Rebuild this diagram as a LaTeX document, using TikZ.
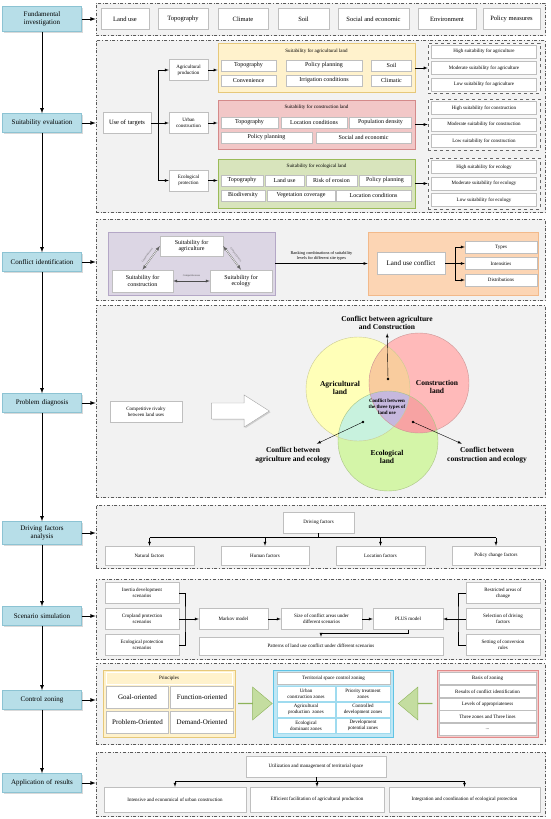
\documentclass[tikz,border=0pt]{standalone}
\usepackage{fontspec}
\setmainfont{Liberation Serif}
\usetikzlibrary{shapes.arrows,shadows}

\definecolor{stageblue}{HTML}{B7DEE8}
\definecolor{stageedge}{HTML}{8CC3D3}
\definecolor{panelgray}{HTML}{F2F2F2}
\definecolor{cellline}{HTML}{BFBFBF}
\definecolor{agfill}{HTML}{FFF2CC}
\definecolor{agedge}{HTML}{E6C87A}
\definecolor{cofill}{HTML}{F2C7C7}
\definecolor{coedge}{HTML}{D48A8A}
\definecolor{ecfill}{HTML}{D8E4BC}
\definecolor{ecedge}{HTML}{9BBB59}
\definecolor{purfill}{HTML}{DCD6E4}
\definecolor{puredge}{HTML}{B4A7C6}
\definecolor{orfill}{HTML}{FCD5B4}
\definecolor{oredge}{HTML}{F2B98A}
\definecolor{zofill}{HTML}{BFE7F5}
\definecolor{zoedge}{HTML}{5FC3E4}
\definecolor{bafill}{HTML}{F5CCCC}
\definecolor{baedge}{HTML}{E38A8A}
\definecolor{arrfill}{HTML}{C4DDA0}
\definecolor{arredge}{HTML}{8DB35A}
\definecolor{vyel}{HTML}{FFFFB8}
\definecolor{vred}{HTML}{FFBABA}
\definecolor{vgrn}{HTML}{D4F5A8}
\definecolor{vac}{HTML}{F9CC9E}
\definecolor{vae}{HTML}{C8F2DE}
\definecolor{vce}{HTML}{F7A3A3}
\definecolor{vall}{HTML}{C6B8DE}

\tikzset{
  wh/.style 2 args={minimum width=#1pt, minimum height=#2pt},
  shadowed/.style={drop shadow={shadow xshift=1.2pt, shadow yshift=-1.2pt, opacity=0.3}},
  stage/.style={draw=stageedge, fill=stageblue, text width=74pt, align=center, minimum width=79pt,
    minimum height=19pt, inner sep=1pt, font=\fontsize{7}{8}\selectfont, shadowed},
  panel/.style={draw=black!65, dash dot, line width=0.7pt, fill=panelgray,
    drop shadow={shadow xshift=1pt, shadow yshift=-1pt, opacity=0.15}},
  subpanel/.style={draw=black!60, dashed, line width=0.6pt, fill=black!3},
  cell/.style={draw=cellline, fill=white, align=center, inner sep=0.5pt, font=\fontsize{6}{6.8}\selectfont},
  fsmall/.style={font=\fontsize{5}{5.8}\selectfont},
  fmid/.style={font=\fontsize{6.5}{7.5}\selectfont},
  fbig/.style={font=\fontsize{7}{8}\selectfont},
  ftiny/.style={font=\fontsize{4.3}{5}\selectfont},
  rival/.style={<->, black!60, double=white, double distance=0.6pt},
  vlabel/.style={align=center, font=\bfseries\fontsize{7.5}{8.5}\selectfont},
  greenarrow/.style={single arrow, fill=arrfill, draw=arredge, minimum height=34pt, minimum width=33pt,
    single arrow head extend=8pt, single arrow tip angle=80, inner sep=0pt}
}

\begin{document}
\begin{tikzpicture}[x=1pt, y=-1pt, >=latex]
\useasboundingbox (0,0) rectangle (550,819);

% Panels
\node[panel, wh={449}{32}] (p1) at (320.5,19) {};
\node[panel, wh={449}{172}] (p2) at (320.5,126) {};
\node[panel, wh={449}{81}] (p3) at (320.5,259.5) {};
\node[panel, wh={449}{192}] (p4) at (320.5,401) {};
\node[panel, wh={449}{63}] (p5) at (320.5,536.5) {};
\node[panel, wh={449}{80}] (p6) at (320.5,619) {};
\node[panel, wh={449}{81}] (p7) at (320.5,703.5) {};
\node[panel, wh={449}{64}] (p8) at (320.5,784) {};

% Stages
\node[stage, minimum height=25pt] (fund) at (42,19) {Fundamental\\investigation};
\node[stage] (suit) at (42,123) {Suitability evaluation};
\node[stage] (conf) at (42,262) {Conflict identification};
\node[stage] (prob) at (42,403) {Problem diagnosis};
\node[stage, minimum height=23pt] (driv) at (42,533) {Driving factors\\analysis};
\node[stage] (scen) at (42,616) {Scenario simulation};
\node[stage] (ctrl) at (42,700) {Control zoning};
\node[stage] (appl) at (42,783) {Application of results};
\foreach \a/\b in {fund/suit, suit/conf, conf/prob, prob/driv, driv/scen, scen/ctrl, ctrl/appl}
  \draw[->, thick] (\a) -- (\b);
\foreach \s/\p in {fund/p1, suit/p2, conf/p3, prob/p4, driv/p5, scen/p6, ctrl/p7, appl/p8}
  \draw[->, thick] (\s) -- (\s -| \p.west);

% Fundamental investigation
\node[cell, fmid, wh={48}{21}] (lu) at (125,19) {Land use};
\node[cell, fmid, wh={50}{21}] (topo) at (183,19) {Topography};
\node[cell, fmid, wh={50}{21}] (clim) at (243,19) {Climate};
\node[cell, fmid, wh={51}{21}] (soil) at (303.5,19) {Soil};
\node[cell, fmid, wh={71}{21}] (soec) at (373.5,19) {Social and economic};
\node[cell, fmid, wh={58}{21}] (envi) at (447,19) {Environment};
\node[cell, fmid, wh={57}{21}] (poli) at (511.5,19) {Policy measures};

% Suitability evaluation
\node[cell, fmid, wh={48}{21}] (targ) at (127,123) {Use of targets};
\node[cell, fsmall, wh={39}{21}] (agp) at (188.5,70) {Agricultural\\production};
\node[cell, fsmall, wh={39}{21}] (urb) at (188.5,123) {Urban\\construction};
\node[cell, fsmall, wh={39}{21}] (ecp) at (188.5,180.5) {Ecological\\protection};
\coordinate (fork) at (158,123);
\draw (targ) -- (fork);
\draw (fork |- agp) -- (fork |- ecp);
\foreach \t in {agp, urb, ecp}
  \draw[->] (fork |- \t) -- (\t);

\node[draw=agedge, fill=agfill, line width=0.8pt, shadowed, wh={197}{49}] (agl) at (316.5,67.5) {};
\node[fsmall] (aglt) at (316.5,51) {Suitability for agricultural land};
\node[cell, wh={55}{11}] (ag1) at (248.5,65.5) {Topography};
\node[cell, wh={76}{11}] (ag2) at (324,65.5) {Policy planning};
\node[cell, wh={40}{11}] (ag3) at (391.5,65.5) {Soil};
\node[cell, wh={55}{11}] (ag4) at (248.5,80.5) {Convenience};
\node[cell, wh={76}{11}] (ag5) at (324,80.5) {Irrigation conditions};
\node[cell, wh={40}{11}] (ag6) at (391.5,80.5) {Climatic};

\node[draw=coedge, fill=cofill, line width=0.8pt, shadowed, wh={197}{49}] (col) at (316.5,124.5) {};
\node[fsmall] (colt) at (316.5,107.5) {Suitability for construction land};
\node[cell, wh={57}{11}] (co1) at (249.5,122.5) {Topography};
\node[cell, wh={66}{11}] (co2) at (314,122.5) {Location conditions};
\node[cell, wh={62}{11}] (co3) at (380.5,122.5) {Population density};
\node[cell, wh={91}{11}] (co4) at (266.5,137.5) {Policy planning};
\node[cell, wh={95}{11}] (co5) at (363.5,137.5) {Social and economic};

\node[draw=ecedge, fill=ecfill, line width=0.8pt, shadowed, wh={197}{49}] (ecl) at (316.5,183.5) {};
\node[fsmall] (eclt) at (316.5,166) {Suitability for ecological land};
\node[cell, wh={42}{11}] (ec1) at (242,180.5) {Topography};
\node[cell, wh={39}{11}] (ec2) at (284.5,180.5) {Land use};
\node[cell, wh={51}{11}] (ec3) at (331.5,180.5) {Risk of erosion};
\node[cell, wh={52}{11}] (ec4) at (385,180.5) {Policy planning};
\node[cell, wh={44}{11}] (ec5) at (243,195.5) {Biodiversity};
\node[cell, wh={68}{11}] (ec6) at (301,195.5) {Vegetation coverage};
\node[cell, wh={75}{11}] (ec7) at (373.5,195.5) {Location conditions};

\draw[->] (agp) -- (agp -| agl.west);
\draw[->] (urb) -- (urb -| col.west);
\draw[->] (ecp) -- (ecp -| ecl.west);

\node[subpanel, wh={112}{50}] (agr) at (484,68) {};
\node[cell, fsmall, wh={105}{13}] (agr1) at (484,51.5) {High suitability for agriculture};
\node[cell, fsmall, wh={105}{13}] (agr2) at (484,68) {Moderate suitability for agriculture};
\node[cell, fsmall, wh={105}{13}] (agr3) at (484,84.5) {Low suitability for agriculture};
\node[subpanel, wh={112}{51}] (cor) at (484,124.5) {};
\node[cell, fsmall, wh={105}{13}] (cor1) at (484,108) {High suitability for construction};
\node[cell, fsmall, wh={105}{13}] (cor2) at (484,124.5) {Moderate suitability for construction};
\node[cell, fsmall, wh={105}{13}] (cor3) at (484,141) {Low suitability for construction};
\node[subpanel, wh={112}{51}] (ecr) at (484,183.5) {};
\node[cell, fsmall, wh={105}{13}] (ecr1) at (484,167) {High suitability for ecology};
\node[cell, fsmall, wh={105}{13}] (ecr2) at (484,183.5) {Moderate suitability for ecology};
\node[cell, fsmall, wh={105}{13}] (ecr3) at (484,200) {Low suitability for ecology};
\draw[->] (agl.east |- agr) -- (agr);
\draw[->] (col.east |- cor) -- (cor);
\draw[->] (ecl.east |- ecr) -- (ecr);

% Conflict identification
\node[draw=puredge, fill=purfill, line width=0.8pt, shadowed, wh={167}{63}] (cmp) at (191.5,263.5) {};
\node[cell, wh={63}{20}] (sag) at (191.5,246) {Suitability for\\agriculture};
\node[cell, wh={61}{22}] (sco) at (142.5,281) {Suitability for\\construction};
\node[cell, wh={62}{22}] (sec) at (241,281) {Suitability for\\ecology};
\draw[<->, black!70] (sco) -- node[above, font=\fontsize{2.6}{3}\selectfont] {Competitiveness} (sec);
\draw[rival] (sag.west) -- node[sloped, above, font=\fontsize{2.6}{3}\selectfont] {Competitiveness} (sco.north);
\draw[rival] (sag.east) -- node[sloped, above, font=\fontsize{2.6}{3}\selectfont] {Competitiveness} (sec.north);

\node[draw=oredge, fill=orfill, line width=0.8pt, shadowed, wh={170}{63}] (ora) at (453,263.5) {};
\draw[->] (cmp.east) -- node[above, align=center, ftiny] {Ranking combinations of suitability\\levels for different site types} (ora.west);
\node[cell, fbig, wh={68}{22}] (luc) at (411,263.5) {Land use conflict};
\node[cell, fsmall, wh={72}{12}] (typ) at (501,247) {Types};
\node[cell, fsmall, wh={72}{12}] (ins) at (501,263.5) {Intensities};
\node[cell, fsmall, wh={72}{12}] (dis) at (501,280) {Distributions};
\coordinate (fork2) at (455,263.5);
\draw (luc) -- (fork2);
\draw (fork2 |- typ) -- (fork2 |- dis);
\foreach \t in {typ, ins, dis}
  \draw[->] (fork2 |- \t) -- (\t);

% Problem diagnosis
\node[cell, fsmall, wh={72}{21}] (riv) at (146,412) {Competitive rivalry\\between land uses};
\node[single arrow, draw=black!35, fill=white, minimum height=58pt, minimum width=32pt,
  single arrow head extend=3.5pt, single arrow tip angle=65, shadowed] (push) at (234,411) {};

\coordinate (vA) at (358,389);
\coordinate (vC) at (419,383);
\coordinate (vE) at (388,441);
\fill[vyel] (vA) circle[radius=52pt];
\fill[vred] (vC) circle[radius=50pt];
\fill[vgrn] (vE) circle[radius=50pt];
\begin{scope}
  \clip (vA) circle[radius=52pt];
  \fill[vac] (vC) circle[radius=50pt];
\end{scope}
\begin{scope}
  \clip (vA) circle[radius=52pt];
  \fill[vae] (vE) circle[radius=50pt];
\end{scope}
\begin{scope}
  \clip (vC) circle[radius=50pt];
  \fill[vce] (vE) circle[radius=50pt];
\end{scope}
\begin{scope}
  \clip (vA) circle[radius=52pt];
  \clip (vC) circle[radius=50pt];
  \fill[vall] (vE) circle[radius=50pt];
\end{scope}
\draw[vyel!80!black] (vA) circle[radius=52pt];
\draw[vred!80!black] (vC) circle[radius=50pt];
\draw[vgrn!80!black] (vE) circle[radius=50pt];

\node[vlabel] (lagr) at (340,388) {Agricultural\\land};
\node[vlabel] (lcon) at (437,387) {Construction\\land};
\node[vlabel] (leco) at (387,457) {Ecological\\land};
\node[align=center, font=\bfseries\fontsize{5}{5.8}\selectfont] (lall) at (387,407) {Conflict between\\the three types of\\land use};
\node[vlabel] (tac) at (387,323) {Conflict between agriculture\\and Construction};
\node[vlabel] (tae) at (293,455) {Conflict between\\agriculture and ecology};
\node[vlabel] (tce) at (487,455) {Conflict between\\construction and ecology};
\coordinate (dac) at (388,379);
\coordinate (dae) at (363,422);
\coordinate (dce) at (413,422);
\foreach \d in {dac, dae, dce}
  \fill (\d) circle[radius=1.3pt];
\draw[->] (dac) -- (tac);
\draw[->] (dae) -- (tae);
\draw[->] (dce) -- (tce);

% Driving factors analysis
\node[cell, fsmall, wh={71}{21}] (dfac) at (318.5,522.5) {Driving factors};
\node[cell, fsmall, wh={89}{19}] (nat) at (149.5,555.5) {Natural factors};
\node[cell, fsmall, wh={88}{19}] (hum) at (265,555.5) {Human factors};
\node[cell, fsmall, wh={89}{19}] (loc) at (380.5,555.5) {Location factors};
\node[cell, fsmall, wh={88}{19}] (pcf) at (496,555.5) {Policy change factors};
\coordinate (fork3) at (318.5,537.5);
\draw (dfac) -- (fork3);
\draw (fork3 -| nat) -- (fork3 -| pcf);
\foreach \t in {nat, hum, loc, pcf}
  \draw[->] (fork3 -| \t) -- (\t);

% Scenario simulation
\node[cell, fsmall, wh={74}{21}] (s1) at (142,593) {Inertia development\\scenarios};
\node[cell, fsmall, wh={74}{21}] (s2) at (142,619) {Cropland protection\\scenarios};
\node[cell, fsmall, wh={74}{21}] (s3) at (142,645) {Ecological protection\\scenarios};
\node[cell, fsmall, wh={69}{21}] (mark) at (233.5,619) {Markov model};
\node[cell, fsmall, wh={81}{21}] (size) at (321.5,619) {Size of conflict areas under\\different scenarios};
\node[cell, fsmall, wh={70}{21}] (plus) at (408,619) {PLUS model};
\node[cell, fsmall, wh={244}{18}] (patt) at (321,646) {Patterns of land use conflict under different scenarios};
\node[cell, fsmall, wh={74}{21}] (r1) at (503,593) {Restricted areas of\\change};
\node[cell, fsmall, wh={74}{21}] (r2) at (503,619) {Selection of driving\\factors};
\node[cell, fsmall, wh={74}{21}] (r3) at (503,645) {Setting of conversion\\rules};
\coordinate (lb) at (185,619);
\coordinate (rb) at (458,619);
\draw (s1) -| (lb) |- (s3);
\draw (r1) -| (rb) |- (r3);
\draw[->] (s2) -- (mark);
\draw[->] (mark) -- (size);
\draw[->] (size) -- (plus);
\draw[->] (r2) -- (plus);
\draw[->] (plus.south) -- ++(0,3.5) -| (patt.north);

% Control zoning
\node[draw=agedge, fill=agfill, line width=0.9pt, shadowed, wh={132}{67}] (prin) at (169,703.5) {};
\node[cell, fill=agfill, draw=white, fsmall, wh={126}{12}] (prinh) at (169,678.5) {Principles};
\node[cell, fbig, wh={62}{22}] (goal) at (137.5,697.5) {Goal-oriented};
\node[cell, fbig, wh={63}{22}] (func) at (202,697.5) {Function-oriented};
\node[cell, fbig, wh={62}{22}] (prbo) at (137.5,722) {Problem-Oriented};
\node[cell, fbig, wh={63}{22}] (dmnd) at (202,722) {Demand-Oriented};

\node[draw=zoedge, fill=zofill, line width=0.9pt, shadowed, wh={120}{67}] (zone) at (333,703.5) {};
\node[cell, fsmall, wh={113}{12}] (zoneh) at (333.5,678) {Territorial space control zoning};
\node[cell, fsmall, draw=zoedge!60, wh={58}{15}] (z1) at (306,693.5) {Urban\\construction zones};
\node[cell, fsmall, draw=zoedge!60, wh={54}{15}] (z2) at (363,693.5) {Priority treatment\\zones};
\node[cell, fsmall, draw=zoedge!60, wh={58}{15}] (z3) at (306,709.5) {Agricultural\\production\ \ zones};
\node[cell, fsmall, draw=zoedge!60, wh={54}{15}] (z4) at (363,709.5) {Controlled\\development zones};
\node[cell, fsmall, draw=zoedge!60, wh={58}{15}] (z5) at (306,725.5) {Ecological\\dominant zones};
\node[cell, fsmall, draw=zoedge!60, wh={54}{15}] (z6) at (363,725.5) {Development\\potential zones};

\node[draw=baedge, fill=bafill, line width=0.9pt, shadowed, wh={101}{67}] (basis) at (487.5,703.5) {};
\node[cell, fsmall, wh={97}{12}] (bash) at (487.5,678.5) {Basis of zoning};
\node[cell, fsmall, wh={97}{12}] (b1) at (487.5,691.5) {Results of conflict identification};
\node[cell, fsmall, wh={97}{12}] (b2) at (487.5,704) {Levels of appropriateness};
\node[cell, fsmall, wh={97}{12}] (b3) at (487.5,716.5) {Three zones and Three lines};
\node[cell, fsmall, wh={97}{12}] (b4) at (487.5,729.5) {...};

\node[greenarrow] (toz) at (255,703.5) {};
\node[greenarrow, shape border rotate=180] (fromb) at (415.5,703.5) {};

% Application of results
\node[cell, fsmall, wh={140}{21}] (util) at (316,766.5) {Utilization and management of territorial space};
\node[cell, fsmall, wh={142}{25}] (i1) at (175,799.5) {Intensive and economical of urban construction};
\node[cell, fsmall, wh={134}{25}] (i2) at (317,799.5) {Efficient facilitation of agricultural production};
\node[cell, fsmall, wh={151}{25}] (i3) at (464.5,799.5) {Integration and coordination of ecological protection};
\coordinate (fork4) at (316,781.5);
\draw (util) -- (fork4);
\draw (fork4 -| i1) -- (fork4 -| i3);
\foreach \t in {i1, i2, i3}
  \draw[->] (fork4 -| \t) -- (\t);
\end{tikzpicture}
\end{document}
